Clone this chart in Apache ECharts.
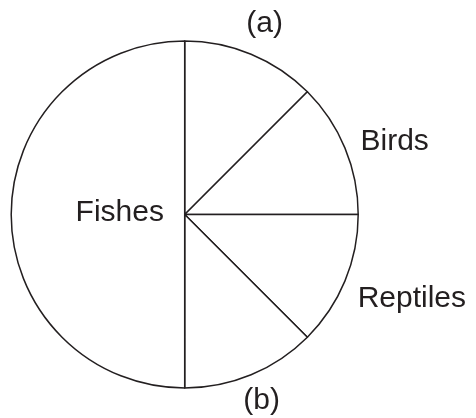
<!DOCTYPE html>
<html>
<head>
<meta charset="utf-8">
<script src="https://cdn.jsdelivr.net/npm/echarts@6/dist/echarts.min.js"></script>
<style>
  html, body { margin: 0; padding: 0; background: #fff; }
  #chart { width: 476px; height: 418px; }
</style>
</head>
<body>
<div id="chart"></div>
<script>
// slices in clockwise order from 12 o'clock, values in degrees of the circle
const categories = ['(a)', 'Birds', 'Reptiles', '(b)', 'Fishes'];
const shares = [45, 45, 45, 45, 180];

const center = [184.7, 214.5];
const radius = 173.5;
const ink = '#231f20';

// where each label sits: angle (deg, ccw from 3 o'clock) and distance from center
const labelSpots = [
  { angle: 67.3, dist: 207, align: 'center' },
  { angle: 22.6, dist: 190.4, align: 'left' },
  { angle: -26.0, dist: 192.4, align: 'left' },
  { angle: -67.6, dist: 201.8, align: 'center' },
  { angle: 178.2, dist: 65, align: 'center' }
];

const chart = echarts.init(document.getElementById('chart'));

chart.setOption({
  backgroundColor: '#fff',
  animation: false,
  series: [
    {
      type: 'pie',
      center: center,
      radius: radius,
      startAngle: 90,
      clockwise: true,
      silent: true,
      avoidLabelOverlap: false,
      data: categories.map((name, i) => ({ name: name, value: shares[i] })),
      itemStyle: {
        color: '#fff',
        borderColor: ink,
        borderWidth: 1.5
      },
      label: {
        show: true,
        position: 'outside',
        formatter: '{b}',
        color: ink,
        fontSize: 30,
        fontFamily: 'Liberation Sans, Arial, sans-serif'
      },
      labelLine: { show: false },
      labelLayout: function (params) {
        const s = labelSpots[params.dataIndex];
        const a = s.angle * Math.PI / 180;
        return {
          x: center[0] + s.dist * Math.cos(a),
          y: center[1] - s.dist * Math.sin(a),
          align: s.align,
          verticalAlign: 'middle'
        };
      },
      emphasis: { disabled: true }
    }
  ]
});
</script>
</body>
</html>
